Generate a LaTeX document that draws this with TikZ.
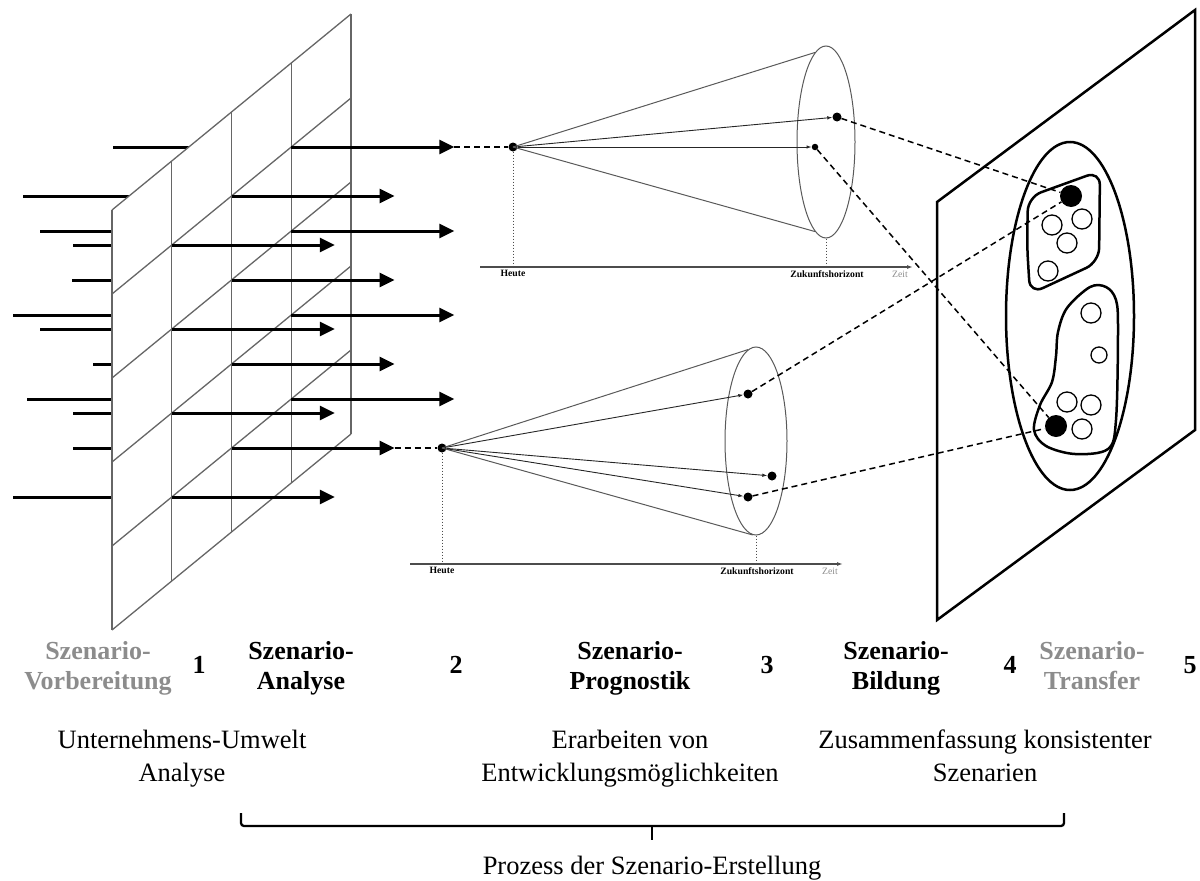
\documentclass[tikz,border=0pt]{standalone}
\usepackage{fontspec}
\setmainfont{Liberation Serif}
\usetikzlibrary{arrows.meta,calc,shapes.geometric}
\definecolor{gridgray}{gray}{0.40}
\definecolor{conegray}{gray}{0.35}
\definecolor{labgray}{gray}{0.55}

\begin{document}
\begin{tikzpicture}[x=1pt,y=-1pt,
  gridln/.style={draw=gridgray,line width=1.3pt},
  stubln/.style={line width=3pt},
  factorarrow/.style={line width=3pt,-{Triangle[length=15pt,width=14pt]}},
  linkdash/.style={line width=1.5pt,dash pattern=on 6pt off 4pt},
  conebody/.style={draw=conegray,line width=1pt},
  coneell/.style={ellipse,draw=conegray,line width=1pt,inner sep=0pt},
  conearrow/.style={draw=black!85,line width=0.9pt,-{Latex[length=5pt,width=3.5pt]}},
  axisln/.style={draw=black!70,line width=1.2pt,-{Latex[length=6pt,width=4pt]}},
  dropln/.style={draw=black!70,line width=0.9pt,dash pattern=on 1.5pt off 1.5pt},
  fdot/.style={circle,fill=black,inner sep=0pt,minimum size=#1},
  fdot/.default=9pt,
  ring/.style={circle,draw,fill=white,line width=1.3pt,inner sep=0pt,minimum size=#1},
  ring/.default=20pt,
  panelln/.style={line width=2.5pt,line join=miter},
  blobln/.style={line width=2.5pt},
  bracketln/.style={line width=2.3pt},
  lab/.style={align=center,font=\fontsize{26}{30}\selectfont\bfseries,inner sep=0pt,anchor=north},
  num/.style={font=\fontsize{26}{30}\selectfont\bfseries,inner sep=0pt},
  desc/.style={align=center,font=\fontsize{26.5}{33}\selectfont,inner sep=0pt,anchor=north},
  tinylab/.style={font=\fontsize{9.7}{11}\selectfont\bfseries,inner sep=0pt,anchor=north},
]
\useasboundingbox (0,0) rectangle (1200,881);

% ---------- grid panel: influence factors passing through ----------
\foreach \c in {0,...,4}
  \foreach \r in {0,...,5}
    \coordinate (g\c\r) at ({112+59.75*\c},{210+84*\r-49*\c});

% incoming factor lines (hidden behind the panel face)
\foreach \c/\r/\lx in {3/1/113, 2/1/23, 3/2/40, 1/1/73, 2/2/72, 3/3/13,
                       1/2/40, 2/3/93, 3/4/27, 1/3/73, 2/4/73, 1/4/13} {
  \coordinate (l\c\r) at (\lx,0 |- g\c\r);
  \draw[stubln] (l\c\r) -- (g\c\r);
}

\fill[white] (g00) -- (g40) -- (g45) -- (g05) -- cycle;
\foreach \c in {0,...,4} \draw[gridln] (g\c0) -- (g\c5);
\foreach \r in {0,...,5} \draw[gridln] (g0\r) -- (g4\r);

% outgoing factor arrows
\foreach \c/\r in {3/1, 2/1, 3/2, 1/1, 2/2, 3/3, 1/2, 2/3, 3/4, 1/3, 2/4, 1/4} {
  \coordinate (e\c\r) at ($(g\c\r)+(163,0)$);
  \draw[factorarrow] (g\c\r) -- (e\c\r);
}

% ---------- upper cone ----------
\node[fdot=9pt] (a1) at (513,147) {};
\node[coneell,minimum width=58pt,minimum height=192pt] (k1) at (826,142) {};
\draw[conebody] (a1.center) -- (k1.97);
\draw[conebody] (a1.center) -- (k1.263);
\node[fdot=9pt] (t1) at (837,117) {};
\node[fdot=6.5pt] (t2) at (815,147) {};
\draw[conearrow] (a1) -- (t1);
\draw[conearrow] (a1) -- (t2);
\draw[linkdash] (e31) -- (a1);

\coordinate (x1s) at (480,267);
\coordinate (x1e) at (913,267);
\draw[axisln] (x1s) -- (x1e);
\draw[dropln] (a1) -- (a1 |- x1s);
\draw[dropln] (k1.south) -- (k1.south |- x1s);
\node[tinylab] (h1) at (513,270) {Heute};
\node[tinylab] (z1) at (827,270) {Zukunftshorizont};
\node[tinylab,font=\fontsize{9.7}{11}\selectfont,text=labgray] (w1) at (900,271) {Zeit};

% ---------- lower cone ----------
\node[fdot=9pt] (a2) at (442,448) {};
\node[coneell,minimum width=62pt,minimum height=188pt] (k2) at (756,441) {};
\draw[conebody] (a2.center) -- (k2.95);
\draw[conebody] (a2.center) -- (k2.268);
\node[fdot=9pt] (b1) at (748,394) {};
\node[fdot=9pt] (b2) at (772,476) {};
\node[fdot=9pt] (b3) at (748,497) {};
\draw[conearrow] (a2) -- (b1);
\draw[conearrow] (a2) -- (b2);
\draw[conearrow] (a2) -- (b3);
\draw[linkdash] (e24) -- (a2);

\coordinate (x2s) at (410,564);
\coordinate (x2e) at (843,564);
\draw[axisln] (x2s) -- (x2e);
\draw[dropln] (a2) -- (a2 |- x2s);
\draw[dropln] (k2.south) -- (k2.south |- x2s);
\node[tinylab] (h2) at (442,567) {Heute};
\node[tinylab] (z2) at (757,567) {Zukunftshorizont};
\node[tinylab,font=\fontsize{9.7}{11}\selectfont,text=labgray] (w2) at (830,568) {Zeit};

% ---------- scenario panel ----------
\draw[panelln] (937,202) -- (1195,10) -- (1195,430) -- (937,620) -- cycle;
\node[ellipse,draw,line width=2.5pt,inner sep=0pt,minimum width=128pt,minimum height=348pt] (big) at (1070,316) {};

\draw[blobln,rounded corners=14pt]
  (1027,245) -- (1028,197) -- (1100,171) -- (1099,262) -- (1030,294) -- cycle;
\draw[blobln] plot[smooth cycle,tension=0.55] coordinates {
  (1090,287) (1106,287) (1116,300) (1118,330) (1116,420) (1108,449)
  (1075,454) (1046,446) (1034,430) (1040,405) (1052,382) (1056,356)
  (1058,332) (1067,308)};

\node[ring] (u1) at (1052,225) {};
\node[ring] (u2) at (1082,219) {};
\node[ring] (u3) at (1067,243) {};
\node[ring] (u4) at (1048,271) {};
\node[fdot=22pt] (ub) at (1071,196) {};

\node[ring] (v1) at (1091,313) {};
\node[ring=16pt] (v2) at (1099,355) {};
\node[ring] (v3) at (1067,402) {};
\node[ring] (v4) at (1091,405) {};
\node[ring] (v5) at (1082,429) {};
\node[fdot=22pt] (vb) at (1056,426) {};

% links from forecasts to scenarios
\draw[linkdash] (t1) -- (ub);
\draw[linkdash] (t2) -- (vb);
\draw[linkdash] (b1) -- (ub);
\draw[linkdash] (b3) -- (vb);

% ---------- phase labels ----------
\node[lab,text=labgray] (p1) at (98,641) {Szenario-\\Vorbereitung};
\node[lab] (p2) at (301,641) {Szenario-\\Analyse};
\node[lab] (p3) at (630,641) {Szenario-\\Prognostik};
\node[lab] (p4) at (896,641) {Szenario-\\Bildung};
\node[lab,text=labgray] (p5) at (1092,641) {Szenario-\\Transfer};
\node[num] (n1) at (199,665) {1};
\node[num] (n2) at (456,665) {2};
\node[num] (n3) at (767,665) {3};
\node[num] (n4) at (1010,665) {4};
\node[num] (n5) at (1190,665) {5};

\node[desc] (d1) at (182,730) {Unternehmens-Umwelt\\Analyse};
\node[desc] (d2) at (630,730) {Erarbeiten von\\Entwicklungsmöglichkeiten};
\node[desc] (d3) at (985,730) {Zusammenfassung konsistenter\\Szenarien};

% ---------- bracket ----------
\coordinate (brl) at (241,813);
\coordinate (brr) at (1064,813);
\coordinate (brm) at (652,826);
\draw[bracketln,rounded corners=3pt] (brl) -- (241,826) -- (1064,826) -- (brr);
\draw[bracketln] (brm) -- ++(0,14);
\node[desc] (pz) at (652,856) {Prozess der Szenario-Erstellung};

\end{tikzpicture}
\end{document}
